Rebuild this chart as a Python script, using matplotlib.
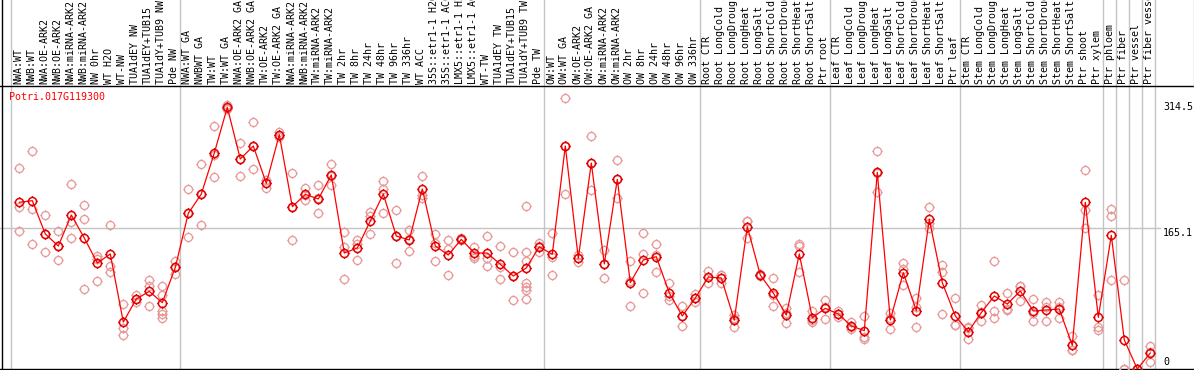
import matplotlib
matplotlib.use("Agg")
import matplotlib.pyplot as plt
import matplotlib.transforms as mtransforms
from matplotlib.path import Path

# ---------------- data ----------------
title = "Potri.017G119300"

group_sizes = [13, 28, 12, 10, 10, 11, 1, 1, 1, 1]

labels = [
    # group 1
    "NWA:WT", "NWB:WT", "NWA:OE-ARK2", "NWB:OE-ARK2", "NWA:miRNA-ARK2", "NWB:miRNA-ARK2",
    "NW 0hr", "WT H2O", "WT-NW", "TUA1dEY NW", "TUA1dEY+TUB15", "TUA1dY+TUB9 NW", "Pde NW",
    # group 2
    "NWA:WT GA", "NWBWT GA", "TW:WT", "TW:WT GA", "NWA:OE-ARK2 GA", "NWB:OE-ARK2 GA",
    "TW:OE-ARK2", "TW:OE-ARK2 GA", "NWA:miRNA-ARK2", "NWB:miRNA-ARK2", "TW:miRNA-ARK2",
    "TW:miRNA-ARK2", "TW 2hr", "TW 8hr", "TW 24hr", "TW 48hr", "TW 96hr", "TW 336hr",
    "WT ACC", "35S::etr1-1 H2O", "35S::etr1-1 ACC", "LMX5::etr1-1 H2O", "LMX5::etr1-1 ACC",
    "WT-TW", "TUA1dEY TW", "TUA1dEY+TUB15", "TUA1dY+TUB9 TW", "Pde TW",
    # group 3
    "OW:WT", "OW:WT GA", "OW:OE-ARK2", "OW:OE-ARK2 GA", "OW:miRNA-ARK2", "OW:miRNA-ARK2",
    "OW 2hr", "OW 8hr", "OW 24hr", "OW 48hr", "OW 96hr", "OW 336hr",
    # root
    "Root CTR", "Root LongCold", "Root LongDrought", "Root LongHeat", "Root LongSalt",
    "Root ShortCold", "Root ShortDrought", "Root ShortHeat", "Root ShortSalt", "Ptr root",
    # leaf
    "Leaf CTR", "Leaf LongCold", "Leaf LongDrought", "Leaf LongHeat", "Leaf LongSalt",
    "Leaf ShortCold", "Leaf ShortDrought", "Leaf ShortHeat", "Leaf ShortSalt", "Ptr leaf",
    # stem
    "Stem CTR", "Stem LongCold", "Stem LongDrought", "Stem LongHeat", "Stem LongSalt",
    "Stem ShortCold", "Stem ShortDrought", "Stem ShortHeat", "Stem ShortSalt", "Ptr shoot",
    "Ptr xylem",
    # single tissues
    "Ptr phloem", "Ptr fiber", "Ptr vessel", "Ptr fiber vessel",
]

means = [
    195.2, 197.1, 158.1, 144.0, 180.3, 153.4, 124.1, 134.7, 55.0, 82.0, 90.9, 77.7, 119.0,
    182.3, 204.9, 252.9, 306.4, 245.9, 261.1, 217.4, 274.4, 190.1, 204.5, 199.1, 227.2,
    135.8, 141.7, 173.3, 204.9, 155.7, 151.1, 210.8, 144.0, 133.5, 151.8, 135.8, 135.8,
    122.6, 108.9, 118.3, 143.2,
    134.3, 261.1, 129.6, 241.2, 123.0, 222.1, 101.1, 127.6, 131.5, 89.0, 62.1, 83.1,
    107.7, 106.6, 57.4, 166.7, 110.1, 89.0, 63.2, 134.7, 60.1, 71.0,
    64.4, 50.4, 44.9, 230.3, 57.4, 112.8, 68.3, 175.3, 101.1, 62.1,
    43.7, 66.0, 85.5, 76.1, 91.3, 67.9, 69.1, 70.3, 27.7, 195.2, 60.5,
    156.5, 34.0, 0.0, 18.7,
]

replicates = [
    [235.0, 190.1, 161.2], [255.3, 187.0, 146.4], [179.9, 158.1, 136.6], [161.2, 144.0, 127.2],
    [216.2, 171.7, 153.4], [191.6, 175.3, 93.3], [132.3, 128.8, 103.0], [168.6, 120.6, 114.0],
    [76.1, 48.4, 39.4], [86.3, 82.0, 78.5], [103.8, 97.2, 73.4], [97.2, 86.3, 68.3, 64.4, 59.7],
    [126.5, 119.0, 110.9],
    [210.8, 182.3, 154.6], [240.0, 205.0, 168.6], [284.5, 250.6, 224.4], [309.1, 305.2, 305.0],
    [264.2, 246.0, 225.6], [289.2, 261.0, 234.2], [221.3, 218.0, 212.3], [277.9, 274.0, 272.1],
    [229.5, 190.0, 151.1], [211.6, 204.0, 197.9], [215.1, 200.0, 182.3], [240.0, 226.0, 215.5],
    [160.4, 143.2, 105.0], [151.1, 146.0, 127.6], [184.2, 179.2, 158.1], [220.1, 210.8, 182.3],
    [186.6, 156.0, 124.1], [162.8, 152.0, 137.8], [226.0, 203.7, 199.8], [158.1, 147.1, 126.1],
    [151.1, 140.9, 110.1], [153.0, 151.0, 151.0], [142.5, 132.3, 130.4], [155.3, 130.4, 120.2],
    [144.0, 119.8, 105.0], [136.6, 108.9, 80.8],
    [190.9, 136.6, 126.9, 100.3, 96.4, 92.5, 82.4], [147.9, 144.0, 137.4],
    [158.9, 131.5, 110.1], [316.9, 261.0, 204.9], [133.5, 130.0, 125.7], [272.4, 241.0, 209.6],
    [139.3, 123.0, 106.2], [244.7, 222.0, 199.8], [126.5, 103.0, 73.8], [158.9, 134.7, 88.6],
    [146.4, 134.0, 113.6], [100.7, 86.0, 80.8], [73.8, 62.0, 50.4], [87.8, 83.0, 78.5],
    [114.8, 108.0, 100.3], [110.0, 109.7, 100.3], [62.8, 60.0, 48.8], [173.3, 173.0, 153.8],
    [111.2, 110.0, 109.0], [106.2, 87.0, 73.8], [71.0, 65.0, 53.5], [146.4, 144.0, 114.0],
    [67.9, 57.0, 55.4], [80.8, 73.0, 58.9],
    [67.9, 64.0, 61.3], [55.4, 49.0, 46.4], [62.1, 37.0, 35.5], [255.3, 229.0, 206.9],
    [65.2, 60.0, 46.8], [123.7, 116.7, 98.4], [83.5, 73.0, 48.8], [189.7, 171.0, 164.7],
    [121.8, 114.0, 64.4], [82.7, 52.0, 51.1],
    [48.8, 48.0, 34.7], [74.9, 67.0, 56.2], [126.1, 68.3, 60.1], [89.4, 70.3, 69.0],
    [97.2, 97.0, 79.6], [81.6, 66.0, 56.2], [78.5, 73.0, 56.2], [78.1, 73.0, 59.3],
    [38.6, 22.2, 22.0], [233.0, 186.2, 164.7], [86.7, 49.6, 45.7],
    [187.4, 179.2, 104.2], [104.2, 0.0, 0.0], [0.0, 0.0, 0.0], [26.9, 20.0, 8.6],
]

ytick_values = [314.5, 165.1, 0]
ytick_labels = ["314.5", "165.1", "0"]
gridline_value = 165.1

# ---------------- figure ----------------
W, H = 1194, 370
fig = plt.figure(figsize=(W / 100, H / 100), dpi=100)
fig.patch.set_facecolor("white")
ax = fig.add_axes([0, 0, 1, 1])
ax.axis("off")

# pixel layout: x_px = 19.3 + 13*i ; y_px(from top) = 369 - 0.854*v
x0, dx = 19.3, 13.0
ky = 141.0 / 165.1
ax.set_xlim((0 - x0) / dx, (W - x0) / dx)
ax.set_ylim(-(1.0) / ky, (H - 1.0) / ky)

def fx(px):
    return px / W

def fy(py):
    return 1 - py / H

mono = "DejaVu Sans Mono"
fsize = 7.2
grey = "#c4c4c4"

# group separators
starts = [0]
for g in group_sizes:
    starts.append(starts[-1] + g)
for s in starts:
    ax.axvline(s - 0.64, color=grey, lw=1.0, zorder=1)

# horizontal gridline
ax.plot([0, fx(1160)], [fy(228), fy(228)], transform=ax.transAxes, color=grey, lw=1.0, zorder=1)

# frame lines
ax.plot([0, 1], [fy(85.5), fy(85.5)], transform=ax.transAxes, color="black", lw=1.0, zorder=2)
ax.plot([0, 1], [fy(369.0), fy(369.0)], transform=ax.transAxes, color="black", lw=1.0, zorder=2)
ax.plot([fx(1.5), fx(1.5)], [0, 1], transform=ax.transAxes, color="black", lw=1.0, zorder=2)
ax.plot([fx(1193.5), fx(1193.5)], [fy(85.5), 1], transform=ax.transAxes, color=grey, lw=1.0, zorder=2)

# marker: circle with 4 little ticks
circ = Path.unit_circle()
ticks = Path([[1, 0], [1.28, 0], [-1, 0], [-1.28, 0], [0, 1], [0, 1.28], [0, -1], [0, -1.28]],
             [Path.MOVETO, Path.LINETO] * 4)
mk = Path.make_compound_path(circ, ticks)

xs = list(range(len(means)))
rx, ry = [], []
for i, reps in enumerate(replicates):
    for r in reps:
        rx.append(i)
        ry.append(r)
ax.plot(rx, ry, linestyle="none", marker=mk, markersize=7.4, markerfacecolor="none",
        markeredgecolor="#e89a9a", markeredgewidth=0.95, zorder=3, clip_on=False)
ax.plot(xs, means, color="#ff0000", lw=0.9, zorder=4)
ax.plot(xs, means, linestyle="none", marker=mk, markersize=7.4, markerfacecolor="none",
        markeredgecolor="#e00000", markeredgewidth=1.1, zorder=5, clip_on=False)

# sample labels (rotated)
trans = mtransforms.blended_transform_factory(ax.transData, ax.transAxes)
for i, lab in enumerate(labels):
    ax.text(i - 0.08, fy(83.5), lab, transform=trans, rotation=90, ha="center", va="bottom",
            family=mono, fontsize=fsize, color="black")

# title
ax.text(fx(9.5), fy(97), title, transform=ax.transAxes, ha="left", va="center",
        family=mono, fontsize=fsize, color="#ff0000")

# y labels
ylab_pos = [107.3, 232.7, 362.0]
for lab, py in zip(ytick_labels, ylab_pos):
    ax.text(fx(1163), fy(py), lab, transform=ax.transAxes, ha="left", va="center",
            family=mono, fontsize=fsize, color="black")

fig.savefig("out.png", dpi=100, facecolor="white")
